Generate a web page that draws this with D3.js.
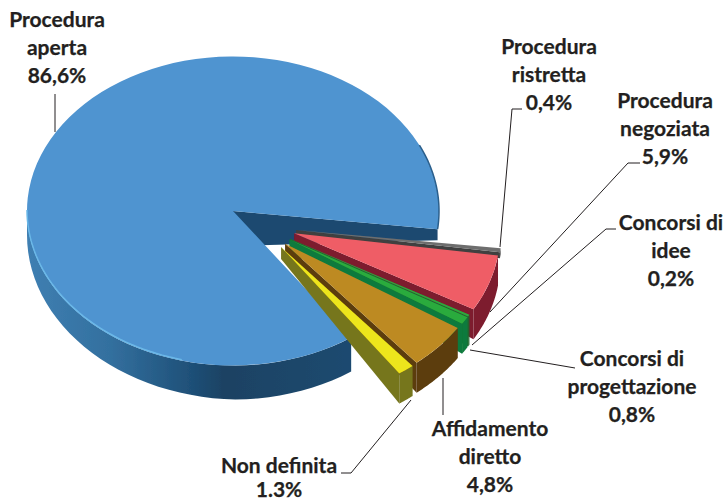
<!DOCTYPE html>
<html>
<head>
<meta charset="utf-8">
<style>
    html, body { margin: 0; padding: 0; background: #fff; }
    text { font-family: Lato, "Open Sans", sans-serif; font-weight: 700; font-size: 21px; fill: #231f20; stroke: #231f20; stroke-width: 0.25px; text-anchor: middle; }
</style>
</head>
<body>
<div id="container"></div>
<script src="https://cdn.jsdelivr.net/npm/d3@7"></script>
<script>
const categories = ["Procedura aperta", "Procedura ristretta", "Procedura negoziata", "Concorsi di idee", "Concorsi di progettazione", "Affidamento diretto", "Non definita"];
const shares = [86.6, 0.4, 5.9, 0.2, 0.8, 4.8, 1.3];
const shareLabels = ["86,6%", "0,4%", "5,9%", "0,2%", "0,8%", "4,8%", "1.3%"];
const topColors = ["#4f94d0", "#6e6e6e", "#ef5d66", "#2bab3c", "#2bab3c", "#bd8a20", "#ede51a"];
const sideColors = ["#1c4a70", "#3f3f3f", "#7d1a2e", "#1c6a30", "#0c7a3c", "#5c3c0a", "#76761f"];

const width = 725, height = 501;
const cx = 233, cy = 211, radius = 206, squash = 0.75;
const explode = 68;
// direction each slice is pulled out along, degrees below horizontal
const explodeDir = [0, 22, 26, 33, 34, 40, 45];
// wall height at the rim and at the tip of each pulled out slice
const depthOut = [0, 6, 30, 30, 30, 30, 30];
const depthIn = [0, 4, 12, 12, 12, 12, 12];

const svg = d3.select("#container").append("svg")
    .attr("width", width)
    .attr("height", height);

const defs = svg.append("defs");
defs.append("filter").attr("id", "soft")
    .append("feGaussianBlur").attr("stdDeviation", 0.6);

const wallGrad = defs.append("linearGradient")
    .attr("id", "wallGrad")
    .attr("gradientUnits", "userSpaceOnUse")
    .attr("x1", 27).attr("x2", 355).attr("y1", 0).attr("y2", 0);
[[0, "#3f7fb2"], [0.25, "#33709f"], [0.5, "#1f5078"], [0.6, "#1a4263"], [1, "#1c4a70"]].forEach(s => {
    wallGrad.append("stop").attr("offset", s[0]).attr("stop-color", s[1]);
});

const pie = d3.pie().sort(null)
    .startAngle(145 * Math.PI / 180)
    .endAngle((145 + 360) * Math.PI / 180);
const slices = pie(shares);
const arc = d3.arc().innerRadius(0).outerRadius(radius);
const line = d3.line();

// point on the ellipse, angle clockwise from 12 o'clock
function rim(a, ox, oy) {
    return [ox + radius * Math.sin(a), oy - radius * Math.cos(a) * squash];
}
function sampled(a0, a1) {
    return d3.range(0, 41).map(i => a0 + (a1 - a0) * i / 40);
}

const g = svg.append("g").attr("filter", "url(#soft)");

// main slice first, its wall gets thinner towards the left
const mainSlice = slices[0];
const mainDepth = d3.scaleLinear().domain([Math.PI, 1.5 * Math.PI]).range([34, 24]).clamp(true);
const wallAngles = sampled(mainSlice.startAngle, 1.5 * Math.PI);
const lower = wallAngles.map(a => rim(a, cx, cy));
const upper = wallAngles.map(a => rim(a, cx, cy + mainDepth(a))).reverse();
g.append("path").attr("d", line(lower.concat(upper)) + "Z").attr("fill", "url(#wallGrad)");

// cut wall seen through the gap
const cutEnd = rim(mainSlice.endAngle, cx, cy);
g.append("path")
    .attr("d", line([[cx, cy], cutEnd, [cutEnd[0], cutEnd[1] + 11], [cx, cy + 35]]) + "Z")
    .attr("fill", sideColors[0]);

g.append("path")
    .attr("transform", `translate(${cx},${cy}) scale(1,${squash})`)
    .attr("d", arc(mainSlice))
    .attr("fill", topColors[0]);

// light edge lower left, dark edge on the right
g.append("path")
    .attr("d", line(sampled(1.08 * Math.PI, 1.5 * Math.PI).map(a => rim(a, cx, cy - 1))))
    .attr("fill", "none")
    .attr("stroke", "#6bb8e8")
    .attr("stroke-width", 1.5);
g.append("path")
    .attr("d", line(sampled(0.36 * Math.PI, mainSlice.endAngle - 2 * Math.PI).map(a => rim(a, cx, cy))))
    .attr("fill", "none")
    .attr("stroke", "#2b5f8c")
    .attr("stroke-width", 1.5);

// pulled out slices, back to front
slices.slice(1).forEach((s, k) => {
    const i = k + 1;
    const dir = explodeDir[i] * Math.PI / 180;
    const ox = cx + explode * Math.cos(dir);
    const oy = cy + explode * Math.sin(dir) * squash;
    const a0 = s.startAngle, a1 = s.endAngle;

    // side wall along the rim
    const outerTop = sampled(a0, a1).map(a => rim(a, ox, oy));
    const outerBot = sampled(a0, a1).map(a => rim(a, ox, oy + depthOut[i])).reverse();
    g.append("path").attr("d", line(outerTop.concat(outerBot)) + "Z").attr("fill", sideColors[i]);

    // side wall along the lower cut edge
    const e = rim(a1, ox, oy);
    g.append("path")
        .attr("d", line([[ox, oy], e, [e[0], e[1] + depthOut[i]], [ox, oy + depthIn[i]]]) + "Z")
        .attr("fill", sideColors[i]);

    g.append("path")
        .attr("transform", `translate(${ox},${oy}) scale(1,${squash})`)
        .attr("d", arc(s))
        .attr("fill", topColors[i]);
});

// leader lines
const leaders = [
    [[55, 94], [55, 132]],
    [[522, 109], [512, 109], [500, 247]],
    [[640, 163], [628, 163], [490, 312]],
    [[616, 229], [606, 229], [472, 345]],
    [[575, 368], [470, 350]],
    [[443, 378], [443, 415]],
    [[341, 473], [351, 473], [411, 400]]
];
svg.selectAll("path.leader")
    .data(leaders)
    .join("path")
    .attr("class", "leader")
    .attr("d", d => line(d))
    .attr("fill", "none")
    .attr("stroke", "#231f20")
    .attr("stroke-width", 1);

// labels, one text per line
const labelLines = [
    ["Procedura", "aperta"],
    ["Procedura", "ristretta"],
    ["Procedura", "negoziata"],
    ["Concorsi di", "idee"],
    ["Concorsi di", "progettazione"],
    ["Affidamento", "diretto"],
    ["Non definita"]
];
const labelPos = [[57, 27], [549, 54], [665, 108], [671, 230], [632, 366], [490, 436], [279, 473]];
const lineGap = [28, 28, 28, 28, 28, 28, 24];

categories.forEach((c, i) => {
    const rows = labelLines[i].concat(shareLabels[i]);
    rows.forEach((t, j) => {
        svg.append("text")
            .attr("x", labelPos[i][0])
            .attr("y", labelPos[i][1] + j * lineGap[i])
            .text(t);
    });
});
</script>
</body>
</html>
